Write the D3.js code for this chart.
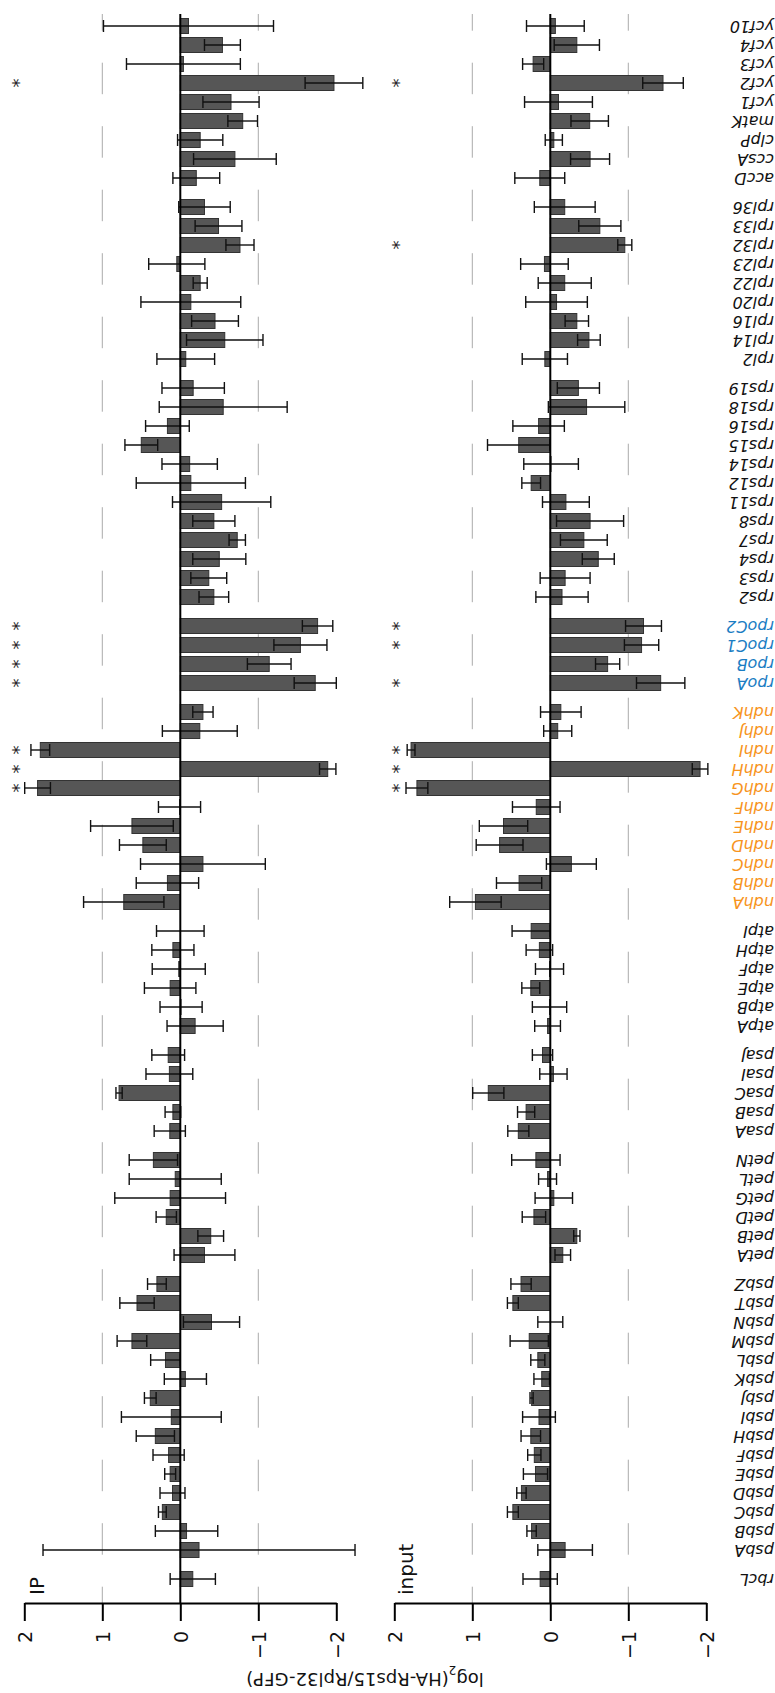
<!DOCTYPE html>
<html>
<head>
<meta charset="utf-8">
<script src="https://cdn.jsdelivr.net/npm/d3@7"></script>
<style>
  body { margin: 0; background: #fff; }
  text { font-family: "DejaVu Sans", sans-serif; }
</style>
</head>
<body>
<div id="chart"></div>
<script>
// gene groups, in the original left-to-right order (drawn bottom to top here)
var groups = [
  ["rbcL"],
  ["psbA", "psbB", "psbC", "psbD", "psbE", "psbF", "psbH", "psbI", "psbJ", "psbK", "psbL", "psbM", "psbN", "psbT", "psbZ"],
  ["petA", "petB", "petD", "petG", "petL", "petN"],
  ["psaA", "psaB", "psaC", "psaI", "psaJ"],
  ["atpA", "atpB", "atpE", "atpF", "atpH", "atpI"],
  ["ndhA", "ndhB", "ndhC", "ndhD", "ndhE", "ndhF", "ndhG", "ndhH", "ndhI", "ndhJ", "ndhK"],
  ["rpoA", "rpoB", "rpoC1", "rpoC2"],
  ["rps2", "rps3", "rps4", "rps7", "rps8", "rps11", "rps12", "rps14", "rps15", "rps16", "rps18", "rps19"],
  ["rpl2", "rpl14", "rpl16", "rpl20", "rpl22", "rpl23", "rpl32", "rpl33", "rpl36"],
  ["accD", "ccsA", "clpP", "matK", "ycf1", "ycf2", "ycf3", "ycf4", "ycf10"]
];

// log2 ratios and error, same order as the genes
var ipMean = [-0.16,
  -0.24, -0.08, 0.23, 0.10, 0.13, 0.15, 0.32, 0.115, 0.385, -0.065, 0.19, 0.62, -0.40, 0.555, 0.30,
  -0.31, -0.39, 0.18, 0.13, 0.065, 0.345,
  0.135, 0.095, 0.785, 0.14, 0.155,
  -0.19, -0.01, 0.13, 0.02, 0.095, 0.0,
  0.725, 0.165, -0.29, 0.48, 0.62, 0.01, 1.83, -1.89, 1.795, -0.25, -0.29,
  -1.73, -1.14, -1.54, -1.76,
  -0.43, -0.365, -0.50, -0.73, -0.43, -0.53, -0.135, -0.12, 0.50, 0.165, -0.55, -0.165,
  -0.07, -0.57, -0.445, -0.135, -0.255, 0.045, -0.765, -0.49, -0.31,
  -0.205, -0.70, -0.255, -0.80, -0.65, -1.97, -0.04, -0.54, -0.105];
var ipErr = [0.29,
  2.0, 0.40, 0.05, 0.16, 0.07, 0.20, 0.245, 0.64, 0.075, 0.27, 0.19, 0.19, 0.36, 0.22, 0.12,
  0.39, 0.165, 0.13, 0.71, 0.59, 0.31,
  0.20, 0.10, 0.04, 0.30, 0.21,
  0.36, 0.27, 0.33, 0.34, 0.27, 0.305,
  0.515, 0.40, 0.80, 0.30, 0.53, 0.27, 0.165, 0.105, 0.12, 0.48, 0.13,
  0.27, 0.28, 0.34, 0.195,
  0.19, 0.23, 0.34, 0.105, 0.27, 0.63, 0.70, 0.355, 0.21, 0.28, 0.82, 0.40,
  0.37, 0.49, 0.30, 0.64, 0.09, 0.36, 0.18, 0.30, 0.33,
  0.30, 0.53, 0.29, 0.19, 0.36, 0.37, 0.73, 0.23, 1.09];
var inputMean = [0.13,
  -0.19, 0.24, 0.48, 0.37, 0.19, 0.205, 0.25, 0.145, 0.24, 0.11, 0.16, 0.27, 0.0, 0.48, 0.375,
  -0.16, -0.34, 0.21, -0.045, 0.035, 0.185,
  0.41, 0.31, 0.795, -0.04, 0.10,
  0.035, 0.01, 0.25, 0.01, 0.14, 0.245,
  0.96, 0.40, -0.27, 0.65, 0.60, 0.18, 1.71, -1.92, 1.785, -0.095, -0.135,
  -1.415, -0.735, -1.17, -1.195,
  -0.15, -0.19, -0.615, -0.43, -0.51, -0.20, 0.245, -0.01, 0.405, 0.15, -0.465, -0.36,
  0.07, -0.495, -0.34, -0.08, -0.185, 0.075, -0.955, -0.635, -0.185,
  0.135, -0.51, -0.045, -0.505, -0.105, -1.445, 0.22, -0.34, -0.065];
var inputErr = [0.22,
  0.35, 0.06, 0.07, 0.06, 0.155, 0.085, 0.125, 0.21, 0.02, 0.10, 0.09, 0.245, 0.16, 0.07, 0.13,
  0.10, 0.04, 0.15, 0.24, 0.115, 0.31,
  0.135, 0.11, 0.20, 0.175, 0.13,
  0.165, 0.22, 0.115, 0.18, 0.17, 0.245,
  0.33, 0.29, 0.32, 0.30, 0.31, 0.305, 0.14, 0.10, 0.05, 0.18, 0.26,
  0.31, 0.155, 0.22, 0.23,
  0.335, 0.32, 0.205, 0.30, 0.43, 0.30, 0.12, 0.35, 0.40, 0.33, 0.49, 0.27,
  0.29, 0.145, 0.15, 0.395, 0.34, 0.305, 0.09, 0.27, 0.39,
  0.32, 0.25, 0.11, 0.24, 0.435, 0.26, 0.135, 0.29, 0.37];

// genes marked significant
var ipStars = ["ndhG", "ndhH", "ndhI", "rpoA", "rpoB", "rpoC1", "rpoC2", "ycf2"];
var inputStars = ["ndhG", "ndhH", "ndhI", "rpoA", "rpoC1", "rpoC2", "rpl32", "ycf2"];

var tickValues = [2, 1, 0, -1, -2];
var gridValues = [1, -1];

var width = 775, height = 1693;
var plotTop = 14, axisY = 1603;
var gap = 10 / 19; // extra space between gene groups, in bands

// flatten genes and give every gene a slot, with gaps between groups
var genes = [], slots = [], groupOf = {};
groups.forEach(function(grp, gi) {
  grp.forEach(function(name) {
    groupOf[name] = gi;
    slots.push(genes.length + gi * gap);
    genes.push(name);
  });
});

var y = d3.scaleLinear()
    .domain([0, d3.max(slots)])
    .range([1579, 26]);

var barH = 15, capH = 12;

var labelColor = function(name) {
  if (groupOf[name] === 5) return "#f7941d";
  if (groupOf[name] === 6) return "#1b7dc3";
  return "#111";
};

var svg = d3.select("#chart").append("svg")
    .attr("width", width)
    .attr("height", height)
    .style("display", "block");

var panels = [
  {title: "IP", mean: ipMean, err: ipErr, stars: ipStars, range: [24.3, 336.3], titleX: 44, starX: 15},
  {title: "input", mean: inputMean, err: inputErr, stars: inputStars, range: [394.3, 706.3], titleX: 413, starX: 395}
];

panels.forEach(function(p) {
  var x = d3.scaleLinear().domain([2, -2]).range(p.range);
  var g = svg.append("g");

  var rows = genes.map(function(name, i) {
    return {name: name, slot: slots[i], v: p.mean[i], e: p.err[i]};
  });

  // dashed grid at +1 and -1
  g.selectAll(".grid")
      .data(gridValues)
      .enter().append("line")
      .attr("x1", function(d) { return x(d); })
      .attr("x2", function(d) { return x(d); })
      .attr("y1", plotTop)
      .attr("y2", axisY)
      .attr("stroke", "#aaa")
      .attr("stroke-width", 1)
      .attr("stroke-dasharray", "31.5 32")
      .attr("stroke-dashoffset", 14.8);

  // bars
  g.selectAll(".bar")
      .data(rows)
      .enter().append("rect")
      .attr("x", function(d) { return Math.min(x(0), x(d.v)); })
      .attr("width", function(d) { return Math.abs(x(d.v) - x(0)); })
      .attr("y", function(d) { return y(d.slot) - barH / 2; })
      .attr("height", barH)
      .attr("fill", "#565656")
      .attr("stroke", "#333")
      .attr("stroke-width", 1);

  // error bars
  var eb = g.selectAll(".err")
      .data(rows)
      .enter().append("g")
      .attr("stroke", "#111")
      .attr("stroke-width", 1.4);
  eb.append("line")
      .attr("x1", function(d) { return x(d.v - d.e); })
      .attr("x2", function(d) { return x(d.v + d.e); })
      .attr("y1", function(d) { return y(d.slot); })
      .attr("y2", function(d) { return y(d.slot); });
  eb.append("line")
      .attr("x1", function(d) { return x(d.v - d.e); })
      .attr("x2", function(d) { return x(d.v - d.e); })
      .attr("y1", function(d) { return y(d.slot) - capH / 2; })
      .attr("y2", function(d) { return y(d.slot) + capH / 2; });
  eb.append("line")
      .attr("x1", function(d) { return x(d.v + d.e); })
      .attr("x2", function(d) { return x(d.v + d.e); })
      .attr("y1", function(d) { return y(d.slot) - capH / 2; })
      .attr("y2", function(d) { return y(d.slot) + capH / 2; });

  // zero line
  g.append("line")
      .attr("x1", x(0)).attr("x2", x(0))
      .attr("y1", plotTop).attr("y2", axisY)
      .attr("stroke", "#000")
      .attr("stroke-width", 2);

  // significance marks
  g.selectAll(".star")
      .data(rows.filter(function(d) { return p.stars.indexOf(d.name) >= 0; }))
      .enter().append("text")
      .attr("transform", function(d) { return "translate(" + p.starX + "," + y(d.slot) + ") rotate(-90)"; })
      .attr("text-anchor", "middle")
      .attr("dy", "0.55em")
      .attr("font-size", 18)
      .attr("fill", "#222")
      .text("*");

  // value axis along the bottom
  var axis = g.append("g")
      .attr("transform", "translate(0," + axisY + ")")
      .call(d3.axisBottom(x).tickValues(tickValues).tickSize(18).tickSizeOuter(0).tickFormat(d3.format("d")));
  axis.select(".domain").attr("stroke-width", 2);
  axis.selectAll(".tick line").attr("stroke-width", 2);
  axis.selectAll(".tick text")
      .attr("x", 0).attr("y", 0)
      .attr("dy", "0.36em")
      .attr("transform", "translate(0,28) rotate(-90)")
      .attr("text-anchor", "end")
      .attr("font-size", 19)
      .attr("font-family", "DejaVu Sans")
      .attr("fill", "#111");

  // panel title
  g.append("text")
      .attr("transform", "translate(" + p.titleX + ",1595) rotate(-90)")
      .attr("font-size", 20)
      .attr("fill", "#111")
      .text(p.title);
});

// gene names, upside down, at the right edge
svg.selectAll(".gene")
    .data(genes.map(function(name, i) { return {name: name, slot: slots[i]}; }))
    .enter().append("text")
    .attr("transform", function(d) { return "translate(774," + y(d.slot) + ") rotate(180)"; })
    .attr("dy", "0.32em")
    .attr("font-size", 16)
    .attr("font-style", "italic")
    .attr("fill", function(d) { return labelColor(d.name); })
    .text(function(d) { return d.name; });

// axis title
var title = svg.append("text")
    .attr("transform", "translate(365,1673) rotate(180)")
    .attr("text-anchor", "middle")
    .attr("font-size", 18)
    .attr("fill", "#111");
title.append("tspan").text("log");
title.append("tspan").attr("baseline-shift", "sub").attr("font-size", 12).text("2");
title.append("tspan").text("(HA-Rps15/Rpl32-GFP)");
</script>
</body>
</html>
